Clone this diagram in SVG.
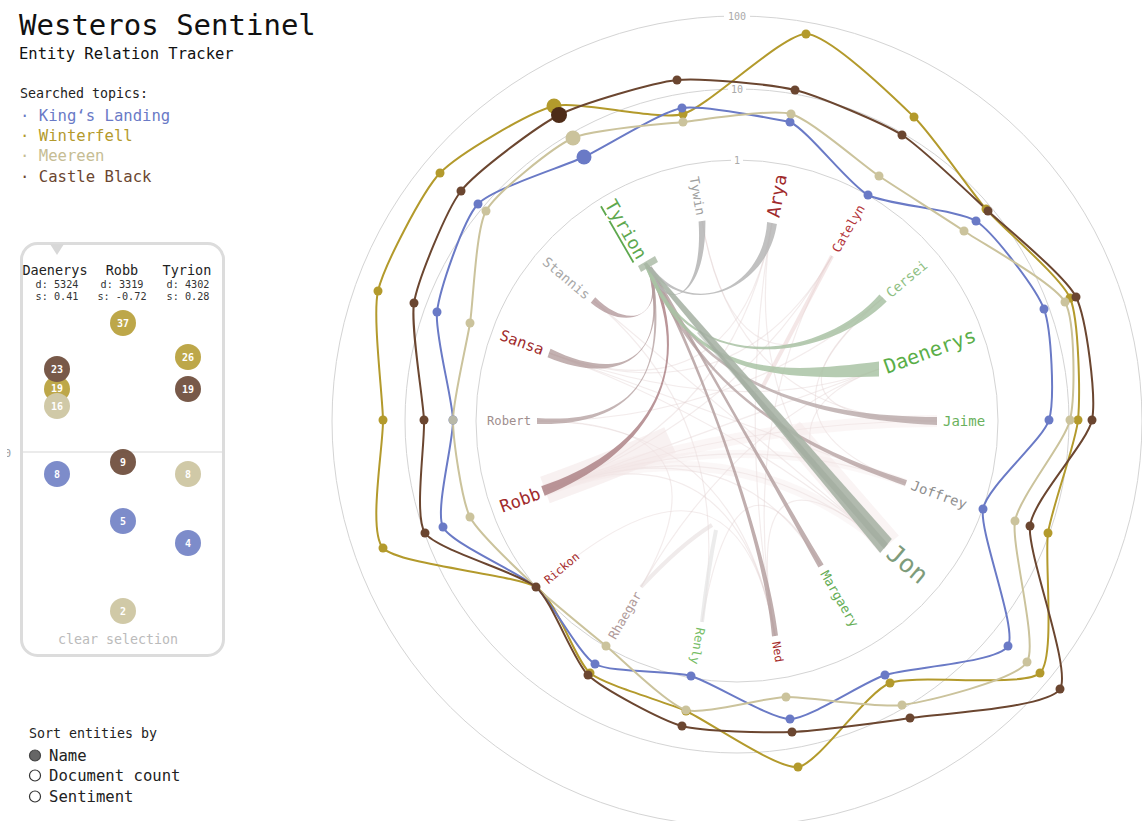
<svg xmlns="http://www.w3.org/2000/svg" width="1142" height="821" viewBox="0 0 1142 821">
<style>
text{font-family:"DejaVu Sans Mono","Liberation Mono",monospace}
.ring{fill:none;stroke:#d4d4d4;stroke-width:1}
.ax{font-size:10px;fill:#aaa;text-anchor:middle}
.faint{fill:none;stroke:#e2cfcf;stroke-width:1.2;opacity:.4}
.halo{fill:none;stroke:#f3e6e6}
.rl{fill:none;stroke-width:2;stroke-linejoin:round}
.kl{stroke:#6a7ac6}.wf{stroke:#b39a2c}.me{stroke:#cbc39c}.cb{stroke:#6b4630}
.dkl{fill:#6a7ac6}.dwf{fill:#b39a2c}.dme{fill:#cbc39c}.dcb{fill:#6b4630}
.lbl{dominant-baseline:central}
.pc{opacity:.92}
.pn{font-size:10px;fill:#fff;text-anchor:middle;font-weight:bold}
.ph{font-size:13.5px;fill:#222;text-anchor:middle}
.ps{font-size:10.2px;fill:#333;text-anchor:middle}
</style>
<defs>
<clipPath id="clipz"><rect x="7" y="440" width="20" height="30"/></clipPath>
</defs>
<rect width="1142" height="821" fill="#fff"/>

<g id="header">
<text x="19" y="35" font-size="29" fill="#111">Westeros Sentinel</text>
<text x="19" y="59" font-size="15.5" fill="#111">Entity Relation Tracker</text>
<text x="20" y="98" font-size="13.3" fill="#222">Searched topics:</text>
<text x="20" y="121" font-size="15.6" fill="#6a7ac6">· King‘s Landing</text>
<text x="20" y="141" font-size="15.6" fill="#b39a2c">· Winterfell</text>
<text x="20" y="161" font-size="15.6" fill="#c6bd94">· Meereen</text>
<text x="20" y="182" font-size="15.6" fill="#6b4630">· Castle Black</text>
</g>

<g id="detail-panel">
<rect x="21.5" y="243.5" width="202" height="412" rx="16" fill="#fff" stroke="#dcdcdc" stroke-width="3"/>
<polygon points="50,244 64,244 57,255" fill="#d8d8d8"/>
<line x1="23" y1="452" x2="222" y2="452" stroke="#e4e4e4" stroke-width="1.5"/>
<text x="11" y="457" font-size="11" fill="#999" text-anchor="end" clip-path="url(#clipz)">0</text>
<text class="ph" x="55" y="275">Daenerys</text>
<text class="ps" x="57" y="288">d: 5324</text>
<text class="ps" x="57" y="300">s: 0.41</text>
<text class="ph" x="122" y="275">Robb</text>
<text class="ps" x="122" y="288">d: 3319</text>
<text class="ps" x="122" y="300">s: -0.72</text>
<text class="ph" x="187" y="275">Tyrion</text>
<text class="ps" x="188" y="288">d: 4302</text>
<text class="ps" x="188" y="300">s: 0.28</text>
<g class="pc">
<circle cx="57" cy="389" r="13" fill="#b8a03a"/>
<circle cx="57" cy="369" r="13" fill="#6d4c3a"/>
<circle cx="57" cy="406" r="13" fill="#cdc5a0"/>
<circle cx="57" cy="474" r="13" fill="#7383c6"/>
<circle cx="123" cy="323" r="13" fill="#b8a03a"/>
<circle cx="123" cy="462" r="13" fill="#6d4c3a"/>
<circle cx="123" cy="521" r="13" fill="#7383c6"/>
<circle cx="123" cy="611" r="13" fill="#cdc5a0"/>
<circle cx="188" cy="357" r="13" fill="#b8a03a"/>
<circle cx="188" cy="389" r="13" fill="#6d4c3a"/>
<circle cx="188" cy="474" r="13" fill="#cdc5a0"/>
<circle cx="188" cy="543" r="13" fill="#7383c6"/>
</g>
<text class="pn" x="57" y="373">23</text>
<text class="pn" x="57" y="392">19</text>
<text class="pn" x="57" y="410">16</text>
<text class="pn" x="57" y="478">8</text>
<text class="pn" x="123" y="327">37</text>
<text class="pn" x="123" y="466">9</text>
<text class="pn" x="123" y="525">5</text>
<text class="pn" x="123" y="615">2</text>
<text class="pn" x="188" y="361">26</text>
<text class="pn" x="188" y="393">19</text>
<text class="pn" x="188" y="478">8</text>
<text class="pn" x="188" y="547">4</text>
<text x="118" y="644" font-size="13.3" fill="#bbb" text-anchor="middle">clear selection</text>
</g>

<g id="sort-control">
<text x="29" y="738" font-size="13.3" fill="#222">Sort entities by</text>
<circle cx="35" cy="755.5" r="5.5" fill="#666" stroke="#444" stroke-width="1.2"/>
<circle cx="35" cy="775.5" r="5.5" fill="#fff" stroke="#333" stroke-width="1.2"/>
<circle cx="35" cy="796.5" r="5.5" fill="#fff" stroke="#333" stroke-width="1.2"/>
<text x="49" y="761" font-size="15.6" fill="#222">Name</text>
<text x="49" y="781" font-size="15.6" fill="#222">Document count</text>
<text x="49" y="802" font-size="15.6" fill="#222">Sentiment</text>
</g>

<g id="axis">
<circle class="ring" cx="737" cy="421" r="261"/>
<circle class="ring" cx="737" cy="421" r="332"/>
<circle class="ring" cx="737" cy="421" r="405"/>
<rect x="724" y="10" width="26" height="12" fill="#fff"/>
<text class="ax" x="737" y="19.5">100</text>
<rect x="728" y="83" width="18" height="12" fill="#fff"/>
<text class="ax" x="737" y="92.5">10</text>
<rect x="731" y="154" width="12" height="12" fill="#fff"/>
<text class="ax" x="737" y="163.5">1</text>
</g>

<g id="connectors">
<g id="faint-chords">
<path class="faint" d="M772,223 Q737,421 543,491"/>
<path class="faint" d="M772,223 Q737,421 549,353"/>
<path class="faint" d="M772,223 Q737,421 886,546"/>
<path class="faint" d="M772,223 Q737,421 775,636"/>
<path class="faint" d="M832,256 Q737,421 543,491"/>
<path class="faint" d="M832,256 Q737,421 775,636"/>
<path class="faint" d="M832,256 Q737,421 549,353"/>
<path class="faint" d="M883,298 Q737,421 937,421"/>
<path class="faint" d="M883,298 Q737,421 906,483"/>
<path class="faint" d="M883,298 Q737,421 537,421"/>
<path class="faint" d="M879,369 Q737,421 886,546"/>
<path class="faint" d="M879,369 Q737,421 641,587"/>
<path class="faint" d="M937,421 Q737,421 543,491"/>
<path class="faint" d="M886,546 Q737,421 543,491"/>
<path class="faint" d="M886,546 Q737,421 549,353"/>
<path class="faint" d="M886,546 Q737,421 775,636"/>
<path class="faint" d="M906,483 Q737,421 549,353"/>
<path class="faint" d="M775,636 Q737,421 537,421"/>
<path class="faint" d="M775,636 Q737,421 543,491"/>
<path class="faint" d="M821,566 Q737,421 702,622"/>
<path class="faint" d="M702,622 Q737,421 593,300"/>
<path class="faint" d="M593,300 Q737,421 886,546"/>
<path class="faint" d="M641,587 Q737,421 537,421"/>
<path class="faint" d="M702,221 Q737,421 883,298"/>
<path class="faint" d="M702,221 Q737,421 937,421"/>
<path class="faint" d="M543,491 Q737,421 879,369"/>
<path class="faint" d="M549,353 Q737,421 879,369"/>
<path class="faint" d="M553,575 Q737,421 775,636"/>
<path class="faint" d="M821,566 Q737,421 543,491"/>
<path class="faint" d="M906,483 Q737,421 543,491"/>
<path class="halo" d="M543,491 Q737,421 937,421" stroke-width="12" opacity=".35"/>
<path class="halo" d="M543,491 Q737,421 906,483" stroke-width="8" opacity=".3"/>
<path class="halo" d="M543,491 Q737,421 886,546" stroke-width="10" opacity=".3"/>
<path class="halo" d="M545,490 C600,470 630,458 670,440" stroke-width="28" opacity=".55"/>
<path class="halo" d="M889,544 L790,430" stroke-width="26" opacity=".45"/>
<path d="M832,256 L762,388" fill="none" stroke="#ead0d0" stroke-width="4" opacity=".5"/>
<path d="M641,587 Q680,545 712,525" fill="none" stroke="#e6dede" stroke-width="4" opacity=".6"/>
<path d="M702,622 Q708,570 716,530" fill="none" stroke="#e4e4e4" stroke-width="4" opacity=".7"/>
</g>
<g id="tyrion-chords">
<path d="M907,480.2 C810.4,448.9 705.5,399.6 651.6,266.8 L648.4,269.2 C704.5,400.4 809.6,451.1 905,485.8 Z" fill="#b6a3a3" opacity=".8"/>
<path d="M823.6,564.5 C781,494.4 690.5,334.6 651.6,266.8 L648.4,269.2 C689.5,335.4 779,495.6 818.4,567.5 Z" fill="#b29c9c" opacity=".8"/>
<path d="M778,635.5 C766.2,539.8 700.5,359.6 651.6,266.8 L648.4,269.2 C699.5,360.4 763.8,540.2 772,636.5 Z" fill="#b09a9a" opacity=".8"/>
<path d="M937,417 C820,416.4 700.5,389.6 651.6,266.8 L648.4,269.2 C699.5,390.4 820,419.6 937,425 Z" fill="#b8a8a8" opacity=".8"/>
<path d="M541.3,486.3 C639.3,453.1 699.5,380.4 648.4,269.2 L651.6,266.8 C700.5,379.6 640.7,456.9 544.7,495.7 Z" fill="#ae8487" opacity=".85"/>
<path d="M537,418 C625,423.8 671.5,385.4 648.4,269.2 L651.6,266.8 C672.5,384.6 625,426.2 537,424 Z" fill="#b7a2a2" opacity=".8"/>
<path d="M550.5,348.8 C620.6,383.3 669.5,360.4 648.4,269.2 L651.6,266.8 C670.5,359.6 619.4,386.7 547.5,357.2 Z" fill="#b49d9d" opacity=".8"/>
<path d="M595.25,297.3 C625.9,328.9 664.5,320.4 648.4,269.2 L651.6,266.8 C665.5,319.6 624.1,331.1 590.75,302.7 Z" fill="#b49a9c" opacity=".8"/>
<path d="M698.6,221.6 C703.6,300.2 665.5,314.6 651.6,266.8 L648.4,269.2 C664.5,315.4 706.4,299.8 705.4,220.4 Z" fill="#b4b4b4" opacity=".85"/>
<path d="M767.1,222.1 C763,289.6 690.5,319.6 651.6,266.8 L648.4,269.2 C689.5,320.4 767,290.4 776.9,223.9 Z" fill="#b6b6b6" opacity=".85"/>
<path d="M879.4,294.6 C823.5,358.6 690.5,379.6 648.9,265.3 L645.1,266.7 C689.5,380.4 826.5,361.4 886.7,301.4 Z" fill="#a9c2a4" opacity=".85"/>
<path d="M879,361.5 C790,372 695.5,384.6 648.9,265.3 L645.1,266.7 C694.5,385.4 790,378 879,376.5 Z" fill="#a9c3a5" opacity=".85"/>
<path d="M880.2,552.9 L891.8,539.1 L646.5,262.3 L643.5,264.2 Z" fill="#a8b4a6" opacity=".9"/>
<path d="M884,549 L888,544 L700,330 L697,333 Z" fill="#98a597" opacity=".45"/>
<path d="M638,266 L655,256 L658,262 L641,272 Z" fill="#a7b8a2" opacity=".8"/>
</g>
<g id="radar-lines">
<path class="rl wf" d="M806,34 C829.1,34.3 896,99.5 914,117 C932,134.5 970.4,190.9 986,209 C1001.6,227.1 1060.8,276.9 1070,298 C1079.2,319.1 1080.2,396.5 1078,420 C1075.8,443.5 1051.8,507.7 1048,533 C1044.2,558.3 1055.8,658 1040,673 C1024.2,688 914.2,673.6 890,683 C865.8,692.4 818.4,764.2 798,767 C777.6,769.8 706.8,720.4 686,711 C665.2,701.6 605,685.4 590,673 C575,660.6 556.7,599.5 536,587 C515.3,574.5 398.3,564.7 383,548 C367.7,531.3 383.5,445.7 383,420 C382.5,394.3 372.3,315.7 378,291 C383.7,266.3 422.4,191.5 440,173 C457.6,154.5 529.7,111.9 554,106 C578.3,100.1 657.8,121.2 683,114 C708.2,106.8 782.9,33.7 806,34 Z"/>
<path class="rl kl" d="M790,122 C808.6,130.7 849.4,185.1 868,195 C886.6,204.9 958.4,209.6 976,221 C993.6,232.4 1036.7,289.1 1044,309 C1051.3,328.9 1055.1,400 1049,420 C1042.9,440 987.1,486.4 983,509 C978.9,531.6 1017.8,629.4 1008,646 C998.2,662.6 906.8,667.7 885,675 C863.2,682.3 809.4,718.9 790,719 C770.6,719.1 710.5,681.5 691,676 C671.5,670.5 610.5,672.9 595,664 C579.5,655.1 551.2,600.7 536,587 C520.8,573.3 451.3,543.7 443,527 C434.7,510.3 453.6,441.5 453,420 C452.4,398.5 434.5,333.6 437,312 C439.5,290.4 463.3,219.5 478,204 C492.7,188.5 563.6,166.6 584,157 C604.4,147.4 661.4,111.5 682,108 C702.6,104.5 771.4,118.5 790,122 Z"/>
<path class="rl me" d="M791,114 C810.6,119.4 861.7,164.3 879,176 C896.3,187.7 945.4,218.4 964,231 C982.6,243.6 1054.4,283.1 1065,302 C1075.6,320.9 1075,398.1 1070,420 C1065,441.9 1019.3,496.8 1015,521 C1010.7,545.2 1038.3,643.6 1027,662 C1015.7,680.4 926.1,701.5 902,705 C877.9,708.5 807.6,696.5 786,697 C764.4,697.5 704,715.1 686,710 C668,704.9 621,658.3 606,646 C591,633.7 549.6,599.9 536,587 C522.4,574.1 478.3,533.7 470,517 C461.7,500.3 453,439.4 453,420 C453,400.6 466.7,343.9 470,323 C473.3,302.1 475.7,229.5 486,211 C496.3,192.5 553.3,146.9 573,138 C592.7,129.1 661.2,124.4 683,122 C704.8,119.6 771.4,108.6 791,114 Z"/>
<path class="rl cb" d="M795,90 C817.5,95.5 882.7,122.9 902,135 C921.3,147.1 970.6,194.8 988,211 C1005.4,227.2 1065.6,276.1 1076,297 C1086.4,317.9 1096.6,397.1 1092,420 C1087.4,442.9 1033.2,499.1 1030,526 C1026.8,552.9 1072,669.8 1060,689 C1048,708.2 936.8,713.7 910,718 C883.2,722.3 814.8,731.2 792,732 C769.2,732.8 702.4,731.7 682,726 C661.6,720.3 602.6,688.9 588,675 C573.4,661.1 552.3,601.2 536,587 C519.7,572.8 436.2,549.7 425,533 C413.8,516.3 425.1,443 424,420 C422.9,397 410.3,325.9 414,303 C417.7,280.1 446.5,209.8 461,191 C475.5,172.2 537.4,126.1 559,115 C580.6,103.9 653.4,82.5 677,80 C700.6,77.5 772.5,84.5 795,90 Z"/>
</g>
</g>

<g id="radar-dots">
<g class="dwf">
<circle cx="806" cy="34" r="4.5"/><circle cx="914" cy="117" r="4.5"/><circle cx="986" cy="209" r="4.5"/><circle cx="1070" cy="298" r="4.5"/><circle cx="1078" cy="420" r="4.5"/><circle cx="1048" cy="533" r="4.5"/><circle cx="1040" cy="673" r="4.5"/><circle cx="890" cy="683" r="4.5"/><circle cx="798" cy="767" r="4.5"/><circle cx="686" cy="711" r="4.5"/><circle cx="590" cy="673" r="4.5"/><circle cx="383" cy="548" r="4.5"/><circle cx="383" cy="420" r="4.5"/><circle cx="378" cy="291" r="4.5"/><circle cx="440" cy="173" r="4.5"/><circle cx="683" cy="114" r="4.5"/>
<circle cx="554" cy="106" r="7.5"/>
</g>
<g class="dkl">
<circle cx="790" cy="122" r="4.5"/><circle cx="868" cy="195" r="4.5"/><circle cx="976" cy="221" r="4.5"/><circle cx="1044" cy="309" r="4.5"/><circle cx="1049" cy="420" r="4.5"/><circle cx="983" cy="509" r="4.5"/><circle cx="1008" cy="646" r="4.5"/><circle cx="885" cy="675" r="4.5"/><circle cx="790" cy="719" r="4.5"/><circle cx="691" cy="676" r="4.5"/><circle cx="595" cy="664" r="4.5"/><circle cx="443" cy="527" r="4.5"/><circle cx="453" cy="420" r="4.5"/><circle cx="437" cy="312" r="4.5"/><circle cx="478" cy="204" r="4.5"/><circle cx="682" cy="108" r="4.5"/>
<circle cx="584" cy="157" r="7.5"/>
</g>
<g class="dme">
<circle cx="791" cy="114" r="4.5"/><circle cx="879" cy="176" r="4.5"/><circle cx="964" cy="231" r="4.5"/><circle cx="1065" cy="302" r="4.5"/><circle cx="1070" cy="420" r="4.5"/><circle cx="1015" cy="521" r="4.5"/><circle cx="1027" cy="662" r="4.5"/><circle cx="902" cy="705" r="4.5"/><circle cx="786" cy="697" r="4.5"/><circle cx="686" cy="710" r="4.5"/><circle cx="606" cy="646" r="4.5"/><circle cx="470" cy="517" r="4.5"/><circle cx="453" cy="420" r="4.5" fill="#b8b8a8"/><circle cx="470" cy="323" r="4.5"/><circle cx="486" cy="211" r="4.5"/><circle cx="683" cy="122" r="4.5"/>
<circle cx="573" cy="138" r="7.5"/>
</g>
<g class="dcb">
<circle cx="795" cy="90" r="4.5"/><circle cx="902" cy="135" r="4.5"/><circle cx="988" cy="211" r="4.5"/><circle cx="1076" cy="297" r="4.5"/><circle cx="1092" cy="420" r="4.5"/><circle cx="1030" cy="526" r="4.5"/><circle cx="1060" cy="689" r="4.5"/><circle cx="910" cy="718" r="4.5"/><circle cx="792" cy="732" r="4.5"/><circle cx="682" cy="726" r="4.5"/><circle cx="588" cy="675" r="4.5"/><circle cx="536" cy="587" r="4.5"/><circle cx="425" cy="533" r="4.5"/><circle cx="424" cy="420" r="4.5"/><circle cx="414" cy="303" r="4.5"/><circle cx="461" cy="191" r="4.5"/><circle cx="677" cy="80" r="4.5"/>
<circle cx="559" cy="115" r="8" fill="#4e2c18"/>
</g>
</g>

<g id="entity-labels">
<g id="n-arya"><text class="lbl" x="944" y="421" transform="rotate(-80 737 421)" font-size="18" fill="#a02a2c">Arya</text></g>
<g id="n-catelyn"><text class="lbl" x="933" y="421" transform="rotate(-60 737 421)" font-size="12.5" fill="#b3343a">Catelyn</text></g>
<g id="n-cersei"><text class="lbl" x="934" y="421" transform="rotate(-40 737 421)" font-size="13.5" fill="#8fbf84">Cersei</text></g>
<g id="n-daenerys"><text class="lbl" x="894" y="421" transform="rotate(-20 737 421)" font-size="20" fill="#5aae48">Daenerys</text></g>
<g id="n-jaime"><text class="lbl" x="943" y="421" font-size="14" fill="#6ab15c">Jaime</text></g>
<g id="n-joffrey"><text class="lbl" x="923" y="421" transform="rotate(20 737 421)" font-size="13.8" fill="#8e8e8e">Joffrey</text></g>
<g id="n-jon"><text class="lbl" x="937" y="421" transform="rotate(40 737 421)" font-size="25" fill="#7e9c7b">Jon</text></g>
<g id="n-margaery"><text class="lbl" x="911" y="421" transform="rotate(60 737 421)" font-size="13" fill="#65ad55">Margaery</text></g>
<g id="n-ned"><text class="lbl" x="961" y="421" transform="rotate(80 737 421)" font-size="11.5" fill="#a52a2a">Ned</text></g>
<g id="n-renly"><text class="lbl" x="947" y="421" transform="rotate(100 737 421)" font-size="12.3" fill="#76bd66">Renly</text></g>
<g id="n-rhaegar"><text class="lbl" x="539" y="421" transform="rotate(300 737 421)" text-anchor="end" font-size="12.5" fill="#b09a9a">Rhaegar</text></g>
<g id="n-rickon"><text class="lbl" x="529" y="421" transform="rotate(320 737 421)" text-anchor="end" font-size="11.5" fill="#a52a2a">Rickon</text></g>
<g id="n-robb"><text class="lbl" x="527" y="421" transform="rotate(340 737 421)" text-anchor="end" font-size="17.3" fill="#a02a2c">Robb</text></g>
<g id="n-robert"><text class="lbl" x="531" y="421" text-anchor="end" font-size="12.2" fill="#a08e8e">Robert</text></g>
<g id="n-sansa"><text class="lbl" x="531" y="421" transform="rotate(380 737 421)" text-anchor="end" font-size="15.2" fill="#a02a2c">Sansa</text></g>
<g id="n-stannis"><text class="lbl" x="543" y="421" transform="rotate(400 737 421)" text-anchor="end" font-size="13.5" fill="#a8a8a8">Stannis</text></g>
<g id="n-tyrion"><text class="lbl" x="548" y="421" transform="rotate(420 737 421)" text-anchor="end" font-size="18" fill="#5ea84e" text-decoration="underline">Tyrion</text></g>
<g id="n-tywin"><text class="lbl" x="528" y="421" transform="rotate(440 737 421)" text-anchor="end" font-size="13" fill="#a0a0a0">Tywin</text></g>
</g>
</svg>
